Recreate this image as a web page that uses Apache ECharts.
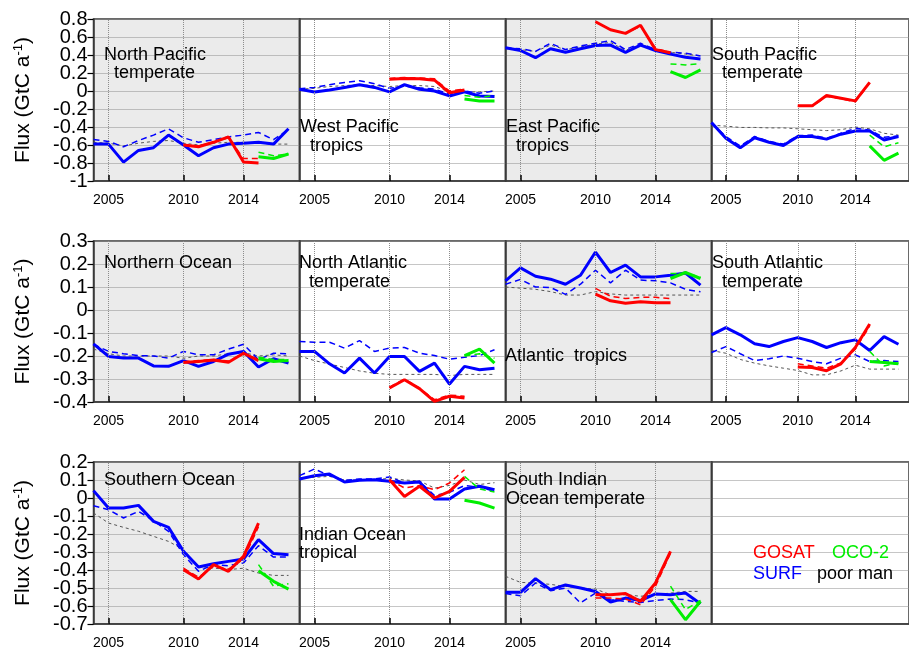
<!DOCTYPE html>
<html><head><meta charset="utf-8">
<script src="https://cdn.jsdelivr.net/npm/echarts@6/dist/echarts.min.js"></script>
<style>html,body{margin:0;padding:0;background:#fff}#c{width:909px;height:650px}</style>
</head><body><div id="c"></div>
<script>
// ---------------- data ----------------
const years = [2004,2005,2006,2007,2008,2009,2010,2011,2012,2013,2014,2015,2016,2017];
const gosatYears = [2010,2011,2012,2013,2014,2015];
const oco2Years = [2015,2016,2017];
const xTickYears = [2005, 2010, 2014];
const rowMin = [-1, -0.4, -0.7];
const rowMax = [0.8, 0.3, 0.2];
const rowStep = [0.2, 0.1, 0.1];
const yTicksRow1 = [-1, -0.8, -0.6, -0.4, -0.2, 0, 0.2, 0.4, 0.6, 0.8];
const yTicksRow2 = [-0.4, -0.3, -0.2, -0.1, 0, 0.1, 0.2, 0.3];
const yTicksRow3 = [-0.7, -0.6, -0.5, -0.4, -0.3, -0.2, -0.1, 0, 0.1, 0.2];
const legendLabels = ['GOSAT', 'OCO-2', 'SURF', 'poor man'];

// region order: NP temp, W Pac trop, E Pac trop, S Pac temp, Northern Ocean, N Atl temp,
// Atl trop, S Atl temp, Southern Ocean, Indian trop, S Indian temp
const regionNames = [
  ['North Pacific', '  temperate'], ['West Pacific', '  tropics'], ['East Pacific', '  tropics'],
  ['South Pacific', '  temperate'], ['Northern Ocean'], ['North Atlantic', '  temperate'],
  ['Atlantic  tropics'], ['South Atlantic', '  temperate'], ['Southern Ocean'],
  ['Indian Ocean', 'tropical'], ['South Indian', 'Ocean temperate']
];

const surf = [
  [-0.59,-0.59,-0.79,-0.66,-0.63,-0.49,-0.60,-0.72,-0.63,-0.59,-0.58,-0.57,-0.59,-0.42],
  [0.02,-0.01,0.01,0.04,0.07,0.04,-0.01,0.07,0.02,0.0,-0.055,-0.01,-0.055,-0.06],
  [0.48,0.45,0.37,0.47,0.43,0.47,0.505,0.51,0.43,0.51,0.45,0.41,0.375,0.355],
  [-0.35,-0.525,-0.63,-0.52,-0.57,-0.605,-0.505,-0.505,-0.535,-0.48,-0.445,-0.445,-0.545,-0.505],
  [-0.147,-0.202,-0.209,-0.209,-0.243,-0.245,-0.22,-0.245,-0.224,-0.192,-0.18,-0.248,-0.212,-0.231],
  [-0.18,-0.18,-0.234,-0.274,-0.209,-0.274,-0.202,-0.202,-0.267,-0.231,-0.322,-0.245,-0.26,-0.253],
  [0.127,0.183,0.147,0.134,0.112,0.151,0.252,0.163,0.195,0.144,0.144,0.151,0.161,0.108],
  [-0.108,-0.077,-0.108,-0.147,-0.159,-0.137,-0.12,-0.137,-0.163,-0.142,-0.13,-0.176,-0.116,-0.149],
  [0.041,-0.056,-0.056,-0.041,-0.13,-0.163,-0.296,-0.383,-0.365,-0.352,-0.339,-0.231,-0.309,-0.315],
  [0.106,0.124,0.133,0.089,0.098,0.102,0.093,0.083,0.089,-0.006,-0.006,0.05,0.065,0.046],
  [-0.524,-0.524,-0.448,-0.509,-0.483,-0.5,-0.519,-0.578,-0.556,-0.57,-0.533,-0.537,-0.528,-0.587]
];
const surfDash = [
  [-0.54,-0.56,-0.62,-0.55,-0.49,-0.42,-0.52,-0.57,-0.54,-0.51,-0.49,-0.46,-0.54,-0.43],
  [0.025,0.04,0.07,0.095,0.115,0.08,0.03,0.055,0.035,0.02,-0.035,0.0,-0.025,0.0],
  [0.48,0.47,0.44,0.53,0.46,0.50,0.53,0.56,0.46,0.53,0.46,0.43,0.42,0.39],
  [-0.36,-0.505,-0.61,-0.505,-0.56,-0.59,-0.495,-0.49,-0.525,-0.47,-0.415,-0.435,-0.515,-0.5],
  [-0.15,-0.18,-0.19,-0.198,-0.2,-0.209,-0.18,-0.195,-0.195,-0.17,-0.149,-0.216,-0.188,-0.19],
  [-0.137,-0.14,-0.14,-0.166,-0.133,-0.18,-0.166,-0.163,-0.188,-0.198,-0.214,-0.206,-0.198,-0.173],
  [0.112,0.133,0.1,0.098,0.068,0.112,0.173,0.118,0.173,0.13,0.127,0.118,0.09,0.079],
  [-0.185,-0.159,-0.19,-0.22,-0.212,-0.2,-0.21,-0.224,-0.234,-0.209,-0.195,-0.224,-0.22,-0.224],
  [-0.043,-0.065,-0.111,-0.074,-0.126,-0.185,-0.315,-0.407,-0.37,-0.376,-0.361,-0.265,-0.328,-0.328],
  [0.124,0.161,0.124,0.098,0.106,0.106,0.117,0.083,0.093,0.013,0.031,0.069,0.061,0.037],
  [-0.531,-0.543,-0.472,-0.515,-0.5,-0.583,-0.528,-0.565,-0.574,-0.58,-0.57,-0.561,-0.565,-0.583]
];
const poorMan = [
  [-0.57,-0.58,-0.61,-0.58,-0.56,-0.55,-0.58,-0.6,-0.58,-0.57,-0.57,-0.58,-0.59,-0.59],
  [0.02,0.03,0.05,0.06,0.07,0.06,0.05,0.06,0.06,0.05,-0.01,-0.01,-0.01,0.0],
  [0.47,0.46,0.44,0.51,0.46,0.49,0.52,0.54,0.45,0.52,0.46,0.43,0.41,0.39],
  [-0.38,-0.39,-0.405,-0.405,-0.41,-0.41,-0.42,-0.43,-0.44,-0.43,-0.4,-0.42,-0.47,-0.49],
  [-0.17,-0.19,-0.2,-0.2,-0.2,-0.2,-0.21,-0.2,-0.2,-0.19,-0.185,-0.2,-0.195,-0.2],
  [-0.2,-0.22,-0.235,-0.25,-0.265,-0.275,-0.28,-0.28,-0.28,-0.28,-0.285,-0.28,-0.28,-0.28],
  [0.1,0.095,0.09,0.08,0.065,0.065,0.08,0.07,0.065,0.065,0.065,0.065,0.065,0.065],
  [-0.176,-0.188,-0.215,-0.231,-0.243,-0.253,-0.263,-0.282,-0.282,-0.265,-0.24,-0.257,-0.257,-0.257],
  [-0.083,-0.139,-0.163,-0.185,-0.213,-0.241,-0.287,-0.38,-0.389,-0.398,-0.39,-0.417,-0.43,-0.43],
  [0.11,0.115,0.12,0.1,0.1,0.1,0.11,0.1,0.095,0.055,0.07,0.1,0.075,0.085],
  [-0.435,-0.469,-0.472,-0.48,-0.491,-0.5,-0.506,-0.537,-0.537,-0.546,-0.537,-0.528,-0.519,-0.519]
];
const gosat = [
  [-0.60,-0.62,-0.57,-0.51,-0.79,-0.80],
  [0.13,0.14,0.135,0.12,-0.02,0.01],
  [0.77,0.68,0.64,0.73,0.46,0.425],
  [-0.165,-0.165,-0.05,-0.08,-0.11,0.095],
  [-0.228,-0.224,-0.217,-0.227,-0.188,-0.22],
  [-0.339,-0.303,-0.342,-0.397,-0.375,-0.383],
  [0.069,0.04,0.029,0.036,0.032,0.032],
  [-0.248,-0.25,-0.264,-0.234,-0.163,-0.061],
  [-0.398,-0.45,-0.37,-0.407,-0.324,-0.139],
  [0.102,0.009,0.065,0.0,0.037,0.115],
  [-0.537,-0.537,-0.531,-0.574,-0.472,-0.296]
];
const gosatDash = [
  [-0.60,-0.61,-0.57,-0.52,-0.75,-0.75],
  [0.14,0.15,0.145,0.135,0.0,0.02],
  [0.77,0.68,0.64,0.72,0.47,0.43],
  [-0.17,-0.17,-0.06,-0.085,-0.12,0.09],
  [-0.225,-0.22,-0.215,-0.222,-0.19,-0.215],
  [-0.335,-0.3,-0.34,-0.39,-0.37,-0.375],
  [0.094,0.06,0.05,0.055,0.055,0.05],
  [-0.234,-0.243,-0.253,-0.23,-0.17,-0.07],
  [-0.39,-0.44,-0.38,-0.395,-0.34,-0.16],
  [0.1,0.056,0.069,0.046,0.083,0.157],
  [-0.556,-0.556,-0.561,-0.593,-0.49,-0.306]
];
const oco2 = [
  [-0.73,-0.75,-0.70],
  [-0.09,-0.11,-0.11],
  [0.215,0.15,0.235],
  [-0.61,-0.77,-0.69],
  [-0.212,-0.224,-0.22],
  [-0.198,-0.17,-0.231],
  [0.137,0.163,0.137],
  [-0.224,-0.228,-0.234],
  [-0.404,-0.463,-0.506],
  [-0.013,-0.028,-0.056],
  [-0.565,-0.676,-0.574]
];
const oco2Dash = [
  [-0.68,-0.72,-0.70],
  [-0.05,-0.07,-0.05],
  [0.30,0.29,0.305],
  [-0.49,-0.62,-0.575],
  [-0.205,-0.215,-0.215],
  [-0.2,-0.19,-0.21],
  [0.159,0.159,0.144],
  [-0.18,-0.243,-0.231],
  [-0.37,-0.49,-0.476],
  [0.12,0.05,0.033],
  [-0.49,-0.62,-0.569]
];

// ---------------- layout ----------------
const FONT = 'Liberation Sans, Arial, Helvetica, sans-serif';
const yTicks = [yTicksRow1, yTicksRow2, yTicksRow3];
const colLeft = [93.5, 299.5, 505.5, 711.5];
const colWidth = 206;
const X_MIN = 2004, X_MAX = 2004 + 206 / 15;
const rowTop = [19, 241, 462];
const rowHeight = [162, 161, 162];
const TICK_PX = 6;
const titlePos = [
  [[104,55],[104,73]], [[300,127],[300,146]], [[506,127],[506,146]], [[712,55],[712,73]],
  [[104,263]], [[299,263],[299,282]], [[505,356]], [[712,263],[712,282]],
  [[104,480]], [[299,535],[299,553]], [[506,480],[506,499]]
];
const BORDER = '#3a3a3a';

const pairs = (xs, ys) => xs.map((x, k) => [x, ys[k]]);
const dotted = () => ({ type: 'dotted', color: '#8c8c8c', width: 1 });
const labelStyle = (values) => ({ show: true, customValues: values, fontSize: 20, margin: 6, color: '#000',
  fontFamily: FONT, showMinLabel: true, showMaxLabel: true, formatter: v => String(+(+v).toFixed(2)) });

const grids = [], xAxes = [], yAxes = [], extraY = [], series = [], graphics = [];
for (let i = 0; i < 12; i++) {
  const r = Math.floor(i / 4), c = i % 4;
  const isLegend = i === 11;
  grids.push({
    left: colLeft[c], top: rowTop[r], width: colWidth, height: rowHeight[r],
    show: true, backgroundColor: (c === 0 || c === 2) ? '#ebebeb' : '#ffffff',
    borderColor: BORDER, borderWidth: 1.5
  });
  xAxes.push({
    gridIndex: i, type: 'value', min: X_MIN, max: X_MAX,
    axisLine: { show: true, onZero: false, lineStyle: { color: BORDER, width: 1.5 } },
    axisTick: { show: false },
    axisLabel: { show: !isLegend, customValues: xTickYears, fontSize: 14, margin: 12,
      color: '#000', fontFamily: FONT, formatter: v => String(v) },
    splitLine: { show: false }
  });
  // labels alternate between two coincident left axes so neighbouring labels never collide
  const evenLabels = yTicks[r].filter((v, k) => k % 2 === 0);
  const oddLabels = yTicks[r].filter((v, k) => k % 2 === 1);
  const yBase = {
    gridIndex: i, type: 'value', min: rowMin[r], max: rowMax[r], interval: rowStep[r],
    position: 'left', offset: 0
  };
  yAxes.push(Object.assign({}, yBase, {
    axisLine: { show: true, onZero: false, lineStyle: { color: BORDER, width: 1.5 } },
    axisTick: { show: c === 0, inside: false, length: 6, customValues: yTicks[r],
      lineStyle: { color: '#000', width: 1.2 } },
    axisLabel: c === 0 ? labelStyle(evenLabels) : { show: false },
    splitLine: { show: true, lineStyle: dotted() },
    name: c === 0 ? 'Flux (GtC a{sup|-1})' : '',
    nameLocation: 'middle', nameGap: 58, nameRotate: 90,
    nameTextStyle: { fontSize: 21, color: '#000', fontFamily: FONT, lineHeight: 24,
      rich: { sup: { fontSize: 13, color: '#000', fontFamily: FONT, verticalAlign: 'top', lineHeight: 14 } } }
  }));
  if (c === 0) {
    extraY.push(Object.assign({}, yBase, {
      axisLine: { show: false, onZero: false }, axisTick: { show: false },
      axisLabel: labelStyle(oddLabels), splitLine: { show: false }
    }));
  }
  if (isLegend) continue;
  const mk = (name, data, color, width, type, z) => ({
    type: 'line', name, xAxisIndex: i, yAxisIndex: i, data, symbol: 'none',
    lineStyle: { color, width, type }, z
  });
  // vertical dotted grid lines at the labelled years
  series.push({
    type: 'line', name: 'year grid', xAxisIndex: i, yAxisIndex: i, data: [], z: 1,
    markLine: { symbol: 'none', label: { show: false }, lineStyle: dotted(),
      emphasis: { disabled: true }, data: xTickYears.map(v => ({ xAxis: v })) }
  });
  // inward tick marks on the bottom axis at the labelled years
  const tickTop = rowMin[r] + TICK_PX * (rowMax[r] - rowMin[r]) / rowHeight[r];
  series.push({
    type: 'line', name: 'year ticks', xAxisIndex: i, yAxisIndex: i, data: [], z: 9,
    markLine: { symbol: 'none', label: { show: false },
      lineStyle: { type: 'solid', color: '#000', width: 1.5 }, emphasis: { disabled: true },
      data: xTickYears.map(v => [{ coord: [v, rowMin[r]] }, { coord: [v, tickTop] }]) }
  });
  series.push(mk('poor man', pairs(years, poorMan[i]), '#555', 1, [3, 3], 2));
  series.push(mk('SURF dashed', pairs(years, surfDash[i]), '#0000ff', 1.5, [6, 4], 3));
  series.push(mk('SURF', pairs(years, surf[i]), '#0000ff', 3, 'solid', 4));
  series.push(mk('GOSAT dashed', pairs(gosatYears, gosatDash[i]), '#ff0000', 1.5, [6, 4], 5));
  series.push(mk('GOSAT', pairs(gosatYears, gosat[i]), '#ff0000', 3, 'solid', 6));
  series.push(mk('OCO-2 dashed', pairs(oco2Years, oco2Dash[i]), '#00ee00', 1.5, [6, 4], 7));
  series.push(mk('OCO-2', pairs(oco2Years, oco2[i]), '#00ee00', 3, 'solid', 8));

  regionNames[i].forEach((line, k) => {
    graphics.push({ type: 'text', x: titlePos[i][k][0], y: titlePos[i][k][1], z: 100,
      style: { text: line, font: '18px ' + FONT, fill: '#000', verticalAlign: 'middle', align: 'left' } });
  });
}
// legend texts
const legendPos = [[753,553,'#ff0000'],[832,553,'#00ee00'],[753,574,'#0000ff'],[817,574,'#000']];
legendLabels.forEach((t, k) => {
  graphics.push({ type: 'text', x: legendPos[k][0], y: legendPos[k][1], z: 100,
    style: { text: t, font: '18px ' + FONT, fill: legendPos[k][2], verticalAlign: 'middle', align: 'left' } });
});

const chart = echarts.init(document.getElementById('c'), null, { renderer: 'canvas' });
chart.setOption({
  animation: false,
  backgroundColor: '#fff',
  tooltip: { show: false },
  grid: grids, xAxis: xAxes, yAxis: yAxes.concat(extraY), series, graphic: graphics
});
</script></body></html>
